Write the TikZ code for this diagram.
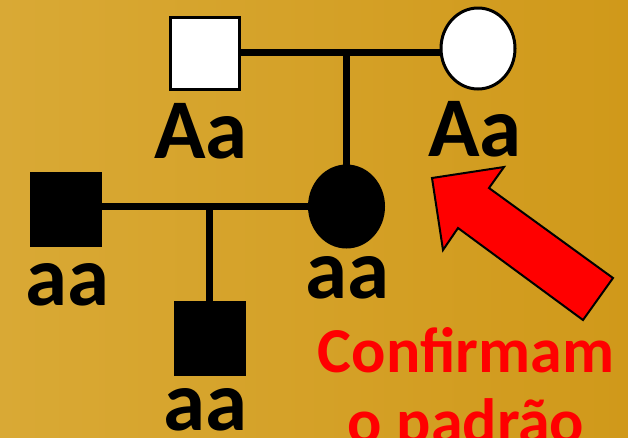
\documentclass[tikz,border=0pt]{standalone}
\usepackage{fontspec}
\setmainfont{Carlito}
\usetikzlibrary{shapes.geometric}
\definecolor{goldL}{HTML}{D9A935}
\definecolor{goldR}{HTML}{D0991A}
\definecolor{markred}{HTML}{FF0000}
\begin{document}
\begin{tikzpicture}[x=1pt,y=-1pt,
  person/.style={draw=black, line width=3pt, inner sep=0pt},
  male/.style={person, rectangle, minimum width=69pt, minimum height=72pt},
  female/.style={person, ellipse, minimum width=74pt, minimum height=81pt},
  affected/.style={fill=black},
  unaffected/.style={fill=white},
  tie/.style={line width=7.5pt, black},
  geno/.style={font=\bfseries\fontsize{85}{85}\selectfont, anchor=base, inner sep=0pt},
  note/.style={font=\bfseries\fontsize{64}{64}\selectfont, text=markred, anchor=base, inner sep=0pt}
]
\useasboundingbox (0,0) rectangle (628,437);
\clip (0,0) rectangle (628,437);
\shade[left color=goldL, right color=goldR] (0,0) rectangle (628,437);

% generation I
\node[male, unaffected] (gf) at (204.5,53) {};
\node[female, unaffected] (gm) at (478,48.5) {};
% generation II
\node[female, affected] (mo) at (346.5,206.5) {};
\node[male, affected] (fa) at (66,209.5) {};
% generation III
\node[male, affected] (ch) at (209.5,338) {};

% marriages and descent lines
\draw[tie] (gf.east |- 0,52.5) -- (gm.west |- 0,52.5);
\coordinate (u1) at (mo.north |- 0,52.5);
\draw[tie] (u1) -- (mo.north);
\draw[tie] (fa.east |- 0,206.5) -- (mo.west);
\coordinate (u2) at (ch.north |- 0,206.5);
\draw[tie] (u2) -- (ch.north);

% genotypes
\node[geno] (lgf) at (201,158) {Aa};
\node[geno] (lgm) at (475,156) {Aa};
\node[geno] (lfa) at (67,305) {aa};
\node[geno] (lmo) at (347,298) {aa};
\node[geno] (lch) at (205,430) {aa};

% pointer
\draw[fill=markred, line width=2pt, line join=miter]
  (432,178) -- (504,167) -- (489,188) -- (613,278) -- (583,320) -- (458,228) -- (443,250) -- cycle;

\node[note] (n1) at (466,372) {Confirmam};
\node[note] (n2) at (466,443) {o padrão};
\end{tikzpicture}
\end{document}
